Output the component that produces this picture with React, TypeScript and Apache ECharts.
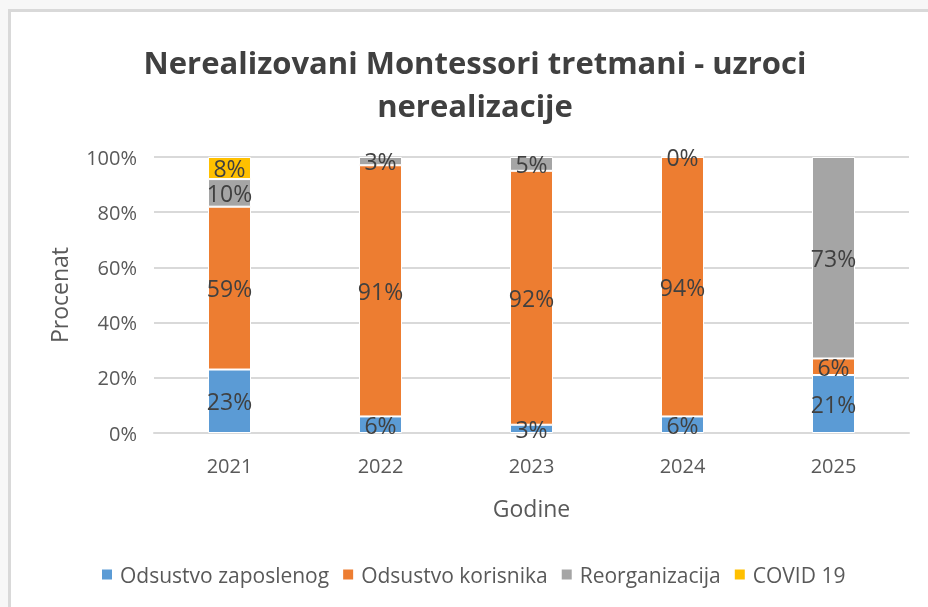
import React, { useEffect, useRef } from "react";
import * as echarts from "echarts";

const categories = ["2021", "2022", "2023", "2024", "2025"];
const seriesNames = ["Odsustvo zaposlenog", "Odsustvo korisnika", "Reorganizacija", "COVID 19"];
const zaposlenog = [23, 6, 3, 6, 21];
const korisnika = [59, 91, 92, 94, 6];
const reorganizacija = [10, 3, 5, 0, 73];
const covid: (number | null)[] = [8, null, null, null, null];
const colors = ["#5b9bd5", "#ed7d31", "#a5a5a5", "#ffc000"];
const yTicks = [0, 20, 40, 60, 80, 100];

const FONT = "'Open Sans', 'Noto Sans', sans-serif";

export default function App() {
  const ref = useRef<HTMLDivElement>(null);
  useEffect(() => {
    if (!ref.current) return;
    const chart = echarts.init(ref.current, undefined, { renderer: "svg" });
    const dataSets = [zaposlenog, korisnika, reorganizacija, covid];
    chart.setOption({
      animation: false,
      graphic: [
        { type: "rect", z: -10, shape: { x: 0, y: 0, width: 928, height: 607 }, style: { fill: "#f7f7f7" }, silent: true },
        { type: "rect", z: -9, shape: { x: 8, y: 9, width: 920, height: 598 }, style: { fill: "#d9d9d9" }, silent: true },
        { type: "rect", z: -8, shape: { x: 11, y: 12, width: 917, height: 595 }, style: { fill: "#ffffff" }, silent: true },
        {
          type: "text", x: 475, y: 62,
          style: { text: "Nerealizovani Montessori tretmani - uzroci", align: "center", verticalAlign: "middle", fontSize: 31, fontWeight: "bold", fontFamily: FONT, fill: "#404040" },
        },
        {
          type: "text", x: 475, y: 105,
          style: { text: "nerealizacije", align: "center", verticalAlign: "middle", fontSize: 31, fontWeight: "bold", fontFamily: FONT, fill: "#404040" },
        },
      ],
      grid: { left: 154, right: 19, top: 157, bottom: 174, containLabel: false },
      legend: {
        data: seriesNames,
        bottom: 17,
        left: 95,
        itemWidth: 12,
        itemHeight: 12,
        itemGap: 12,
        icon: "rect",
        textStyle: { fontSize: 21, color: "#595959", fontFamily: FONT, padding: [0, 0, 0, 2] },
      },
      xAxis: {
        type: "category",
        data: categories,
        name: "Godine",
        nameLocation: "middle",
        nameGap: 63,
        nameTextStyle: { fontSize: 23, color: "#595959", fontFamily: FONT },
        axisLine: { show: true, lineStyle: { color: "#d9d9d9", width: 2 } },
        axisTick: { show: false },
        axisLabel: { fontSize: 20, color: "#595959", fontFamily: FONT, margin: 22 },
      },
      yAxis: {
        type: "value",
        min: 0,
        max: 100,
        interval: 20,
        name: "Procenat",
        nameLocation: "middle",
        nameGap: 84,
        nameTextStyle: { fontSize: 23, color: "#595959", fontFamily: FONT },
        axisLine: { show: false },
        axisTick: { show: false },
        axisLabel: {
          fontSize: 20, color: "#595959", fontFamily: FONT, margin: 17,
          formatter: (v: number) => (yTicks.includes(v) ? v + "%" : ""),
        },
        splitLine: { lineStyle: { color: "#d9d9d9", width: 2 } },
      },
      series: seriesNames.map((name, i) => ({
        name,
        type: "bar",
        stack: "total",
        barWidth: 43,
        data: dataSets[i],
        itemStyle: { color: colors[i], borderColor: "#ffffff", borderWidth: 1 },
        label: {
          show: true,
          position: "inside",
          formatter: (p: any) => (p.value == null ? "" : p.value + "%"),
          fontSize: 23,
          color: "#404040",
          fontFamily: FONT,
        },
      })),
    });
    return () => chart.dispose();
  }, []);
  return (
    <div
      ref={ref}
      style={{ position: "fixed", left: 0, top: 0, width: 928, height: 607 }}
    />
  );
}
